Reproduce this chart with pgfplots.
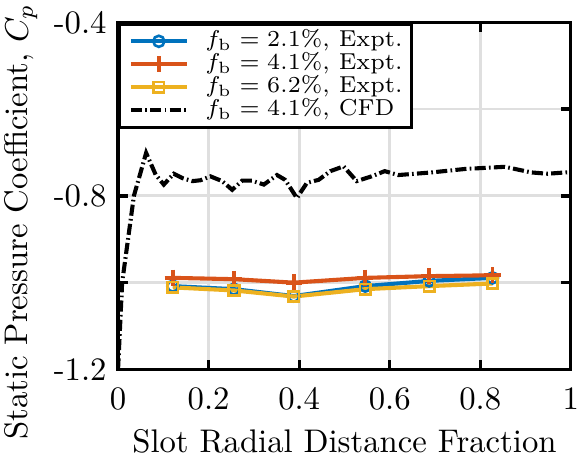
\documentclass[border=0pt]{standalone}
\usepackage{pgfplots}
\pgfplotsset{compat=1.18}
\definecolor{mblue}{rgb}{0,0.447,0.741}
\definecolor{morange}{rgb}{0.85,0.325,0.098}
\definecolor{myellow}{rgb}{0.929,0.694,0.125}
\definecolor{gridc}{rgb}{0.875,0.875,0.875}
\begin{document}
\begin{tikzpicture}
\begin{axis}[
  scale only axis,
  width=138.4pt, height=106.1pt,
  xmin=0, xmax=1, ymin=-1.2, ymax=-0.4,
  xtick={0,0.2,0.4,0.6,0.8,1},
  xticklabels={0,0.2,0.4,0.6,0.8,1},
  ytick={-1.2,-1,-0.8,-0.6,-0.4},
  yticklabels={-1.2,,-0.8,,-0.4},
  tick align=inside,
  major tick length=3pt,
  axis line style={line width=1pt},
  every tick/.style={black, line width=1pt},
  grid=major,
  major grid style={gridc, line width=0.85pt},
  xticklabel style={yshift=-2pt, inner xsep=0pt},
  xlabel={Slot Radial Distance Fraction},
  ylabel={Static Pressure Coefficient, $C_p$},
  xlabel style={yshift=1pt},
  ylabel style={at={(ticklabel cs:0.425)}, inner xsep=1pt, inner ysep=1.5pt},
  legend style={at={(0,1)}, anchor=north west, draw=black, line width=1pt,
    font=\fontsize{7.05}{8}\selectfont, inner xsep=2.8pt, inner ysep=1.8pt, row sep=0pt,
    nodes={inner sep=0pt, text height=5.2pt, text depth=1.8pt},
    /tikz/every odd column/.append style={column sep=5.1pt},
    legend cell align=left},
  legend cell align=left,
]
\addplot[mblue, line width=1.25pt, mark=o, mark size=1.7pt, mark options={solid, line width=0.8pt}] coordinates {
(0.121,-1.008) (0.256,-1.015) (0.388,-1.031) (0.546,-1.008) (0.687,-0.996) (0.827,-0.989)};
\addlegendentry{$f_{\mathrm{b}} = 2.1\%$, Expt.}
\addplot[morange, line width=1.25pt, mark=+, mark size=2.5pt, mark options={solid, line width=1.2pt}] coordinates {
(0.121,-0.989) (0.256,-0.992) (0.388,-1.000) (0.546,-0.989) (0.687,-0.985) (0.827,-0.983)};
\addlegendentry{$f_{\mathrm{b}} = 4.1\%$, Expt.}
\addplot[myellow, line width=1.25pt, mark=square, mark size=1.6pt, mark options={solid, line width=0.8pt}] coordinates {
(0.121,-1.011) (0.256,-1.018) (0.388,-1.032) (0.546,-1.015) (0.687,-1.008) (0.827,-1.002)};
\addlegendentry{$f_{\mathrm{b}} = 6.2\%$, Expt.}
\addplot[black, line width=1.25pt, dash pattern=on 3.4pt off 1pt on 0.5pt off 1pt] coordinates {
(0,-1.2) (0.009,-1.0) (0.035,-0.8) (0.062,-0.701) (0.083,-0.751) (0.101,-0.774) (0.123,-0.749) (0.142,-0.759) (0.164,-0.766) (0.182,-0.764) (0.204,-0.755) (0.230,-0.766) (0.252,-0.786) (0.274,-0.765) (0.296,-0.765) (0.322,-0.774) (0.351,-0.752) (0.369,-0.763) (0.395,-0.805) (0.417,-0.770) (0.443,-0.763) (0.469,-0.743) (0.498,-0.732) (0.527,-0.766) (0.560,-0.755) (0.589,-0.743) (0.619,-0.752) (0.692,-0.746) (0.766,-0.738) (0.854,-0.733) (0.913,-0.746) (0.949,-0.749) (1.0,-0.745)};
\addlegendentry{$f_{\mathrm{b}} = 4.1\%$, CFD}
\end{axis}
\end{tikzpicture}
\end{document}
